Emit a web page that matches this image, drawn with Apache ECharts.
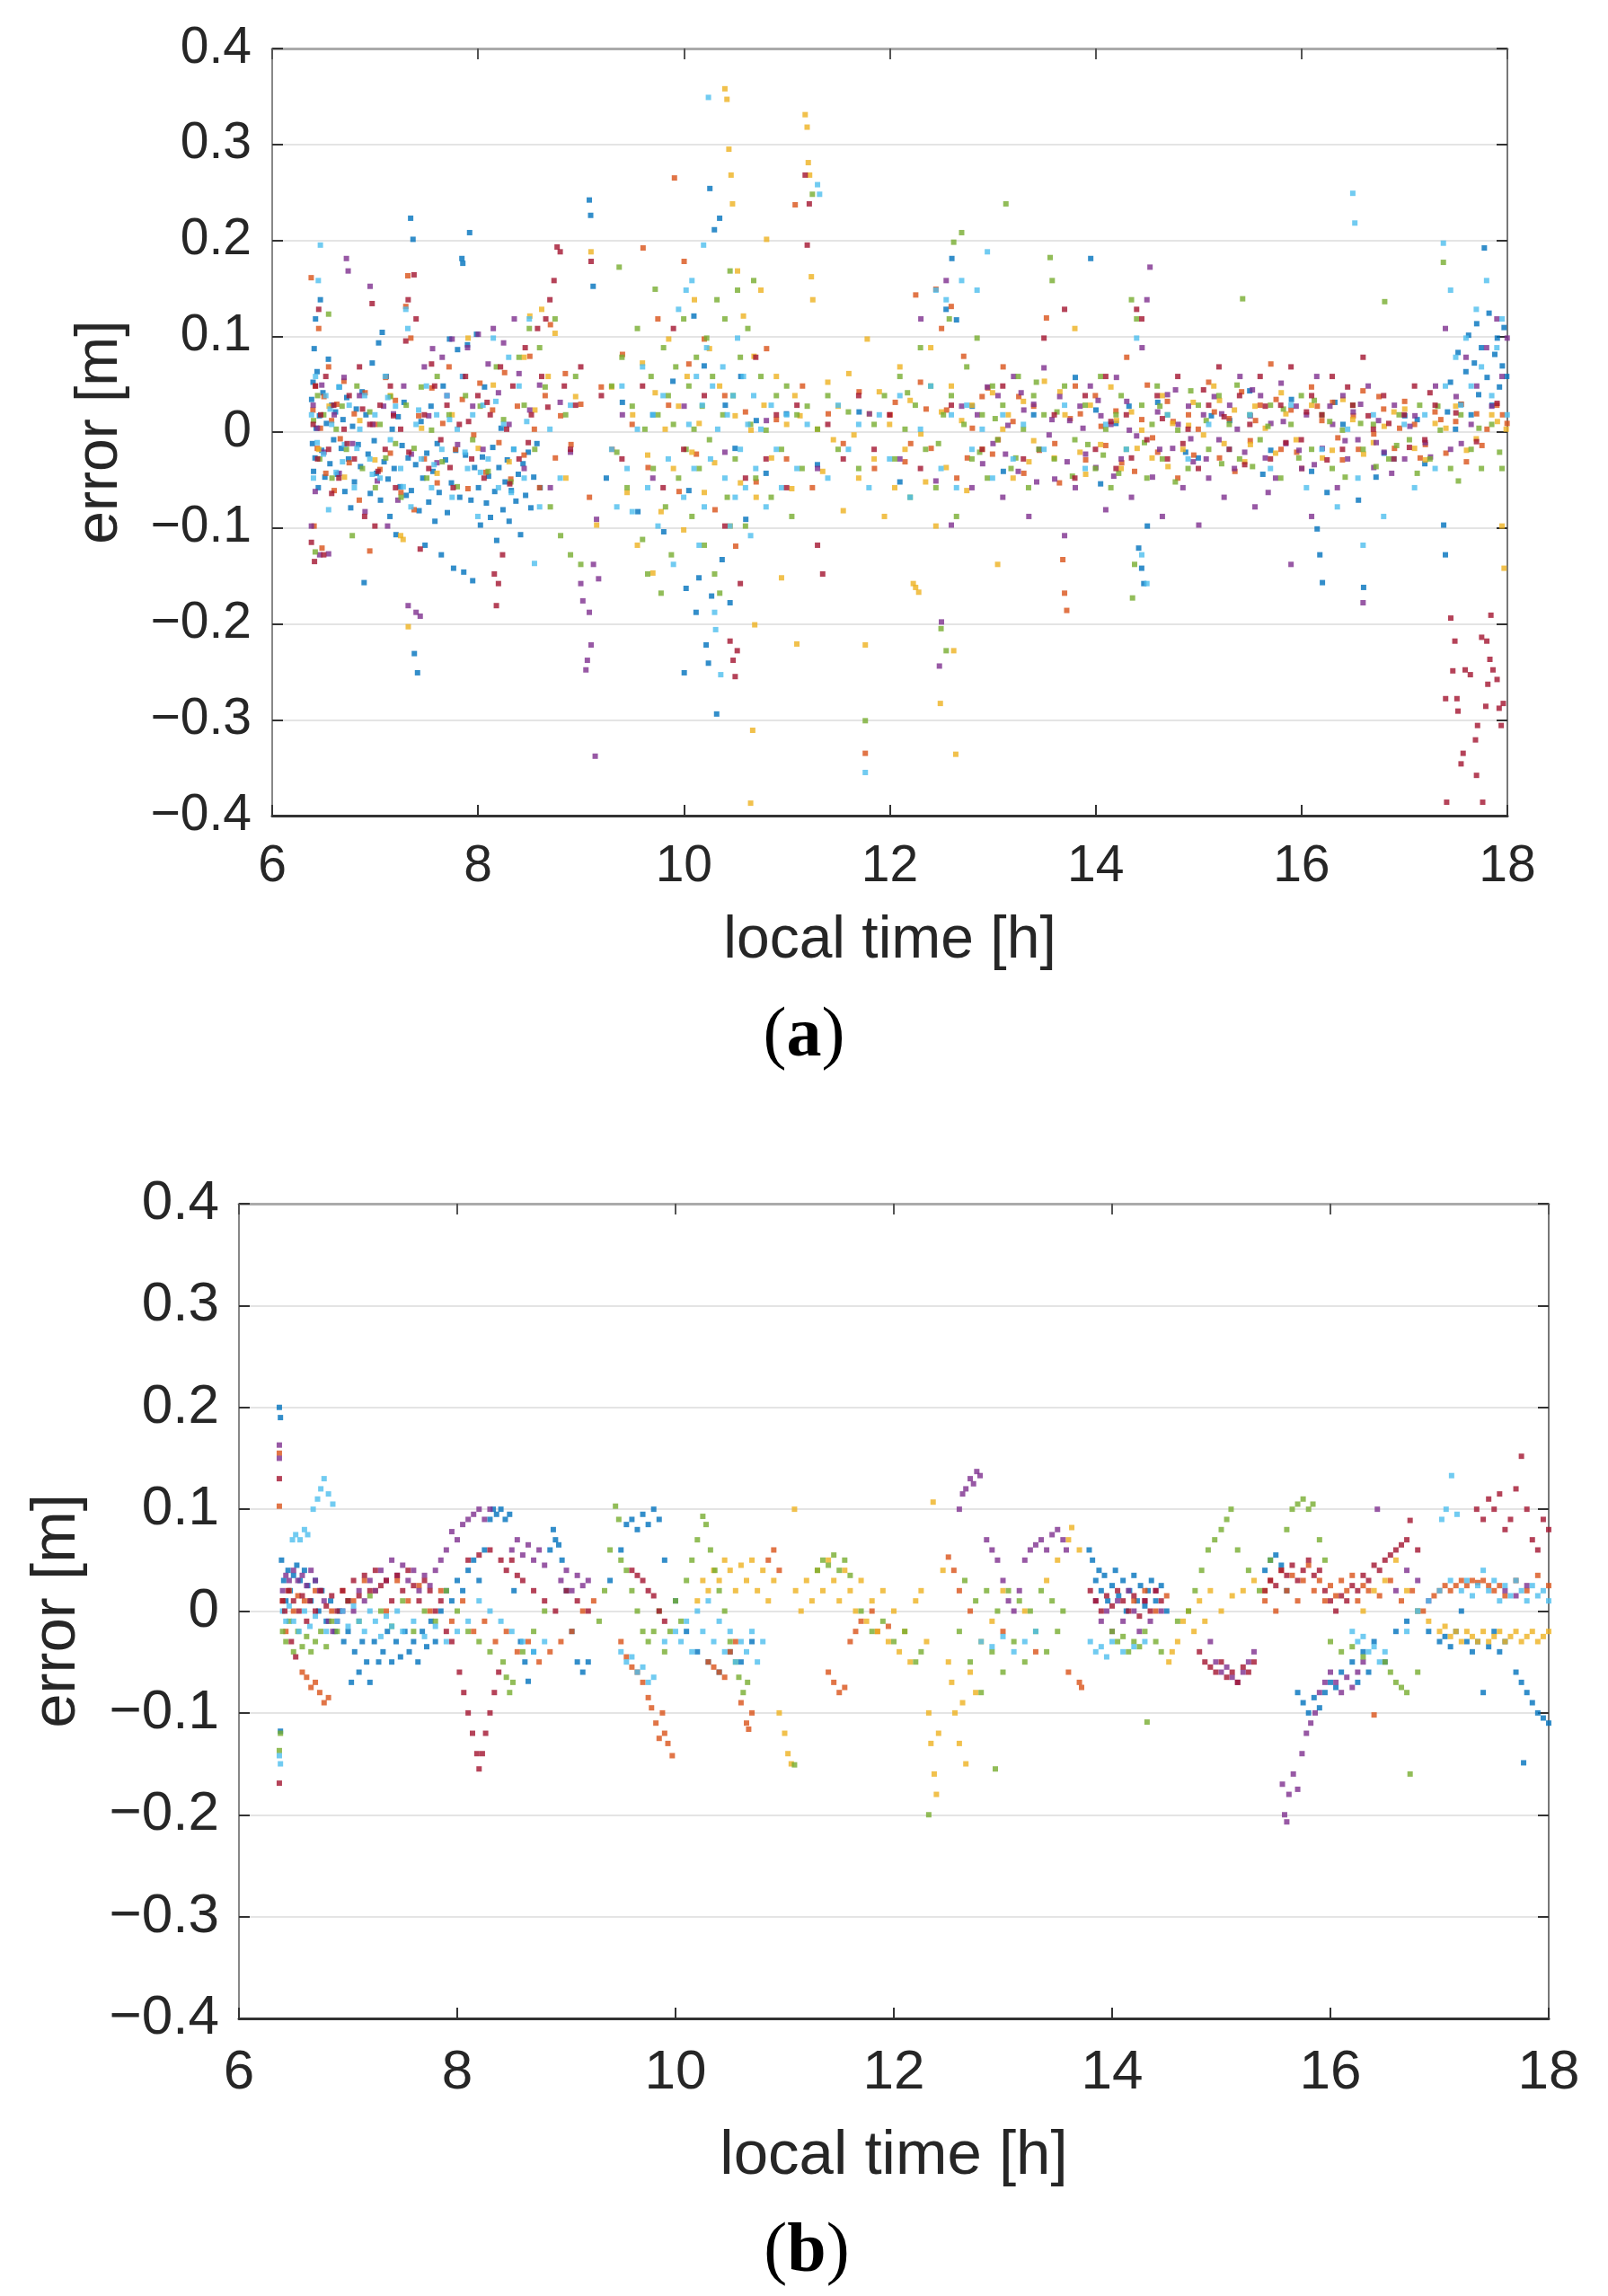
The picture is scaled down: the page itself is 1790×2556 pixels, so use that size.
<!DOCTYPE html>
<html style="height: 100%">
<head>
    <meta charset="UTF-8">
    <title>error vs local time</title>
    <script src="https://cdn.jsdelivr.net/npm/echarts@6/dist/echarts.min.js"></script>
</head>
<body style="height: 100%; margin: 0; background: #fff">
    <div id="main" style="width: 1790px; height: 2556px"></div>
    <script type="text/javascript">
        // matlab default colour order
        const colors = ['#0072BD', '#D95319', '#EDB120', '#7E2F8E', '#77AC30', '#4DBEEE', '#A2142F'];
        const xRange = [6, 18];
        const yRange = [-0.4, 0.4];

        // ---- panel (a) : [local time h, error m] ----
        const aBlue = [[6.383,0.034],[6.391,-0.012],[6.397,0.052],[6.402,-0.041],[6.408,0.087],[6.416,-0.027],[6.421,0.118],[6.427,0.004],[6.436,0.063],[6.448,-0.058],[6.459,0.017],[6.468,0.138],[6.481,-0.019],[6.493,0.041],[6.512,-0.047],[6.527,0.009],[6.546,0.076],[6.561,-0.033],[6.578,0.028],[6.597,-0.008],
            [6.615,0.021],[6.633,-0.044],[6.652,0.047],[6.671,-0.017],[6.688,0.013],[6.706,-0.062],[6.724,0.036],[6.741,-0.028],[6.763,-0.079],[6.781,0.006],[6.799,-0.052],[6.817,0.024],[6.836,-0.013],[6.858,-0.036],[6.874,0.042],[6.893,-0.157],[6.911,0.018],[6.932,-0.023],[6.953,-0.064],[6.972,0.072],[6.991,-0.009],[7.013,-0.043],[7.034,0.093],[7.052,-0.071],[7.069,0.104],[7.087,-0.031],[7.108,0.058],[7.126,-0.049],[7.144,-0.088],[7.166,0.003],[7.185,-0.038],[7.203,-0.107],[7.224,0.016],[7.243,-0.057],[7.262,-0.014],[7.281,0.031],[7.302,-0.066],[7.321,-0.027],[7.345,0.223],[7.352,-0.061],[7.368,0.201],[7.381,-0.231],[7.394,-0.034],[7.412,-0.251],[7.427,-0.082],[7.446,0.011],[7.463,-0.048],[7.485,-0.118],[7.502,-0.022],[7.521,-0.073],[7.543,0.027],[7.562,-0.041],[7.581,-0.093],[7.603,-0.012],[7.622,-0.063],[7.643,-0.128],[7.661,0.048],[7.684,-0.029],[7.702,-0.084],[7.723,0.097],[7.741,-0.053],[7.762,-0.142],[7.783,-0.019],[7.801,0.086],[7.822,-0.068],[7.843,0.181],[7.852,0.176],[7.861,-0.146],[7.878,-0.024],[7.897,0.091],[7.918,0.208],[7.931,-0.071],[7.948,-0.155],[7.966,-0.037],[7.985,0.102],[8.004,-0.058],[8.023,-0.097],[8.042,-0.026],[8.063,0.047],[8.081,-0.074],[8.102,-0.046],[8.121,-0.089],[8.143,-0.016],[8.162,-0.062],[8.181,-0.113],[8.203,-0.037],[8.224,0.004],[8.242,-0.081],[8.263,-0.052],[8.284,-0.029],[8.302,-0.093],[8.323,-0.061],[8.346,-0.018],[8.368,-0.072],[8.391,-0.044],[8.413,-0.107],[8.437,-0.033],[8.462,-0.066],[8.488,-0.021],[8.513,-0.079],[8.541,-0.047],[8.572,-0.012],[8.603,-0.058],
            [9.081,0.242],[9.094,0.226],[9.118,0.152],[9.246,-0.048],[9.402,0.031],[9.553,-0.083],[9.698,0.018],[9.804,-0.104],[9.893,0.053],[10.003,-0.251],[10.021,-0.163],[10.048,-0.061],[10.097,0.121],[10.118,-0.188],[10.146,-0.152],[10.197,0.069],[10.216,-0.222],[10.238,-0.241],[10.252,0.254],[10.269,-0.171],[10.296,0.211],[10.318,-0.294],[10.347,0.223],[10.371,-0.133],[10.402,0.028],[10.448,-0.178],[10.497,-0.017],[10.553,0.058],[10.601,-0.091],[10.703,0.012],[10.798,-0.043],[10.996,0.019],
            [11.297,-0.034],[11.702,0.021],[12.098,-0.052],[12.547,0.128],[12.603,0.181],[12.648,0.117],[12.801,0.027],[13.103,-0.041],[13.398,0.018],[13.802,0.057],[13.952,0.181],[14.003,0.023],[14.048,-0.054],[14.197,0.009],[14.324,0.027],[14.418,-0.121],[14.447,-0.142],[14.468,-0.158],[14.502,-0.098],[14.603,0.031],[14.874,-0.021],[14.997,-0.027],[15.124,0.017],[15.302,0.012],[15.497,0.043],[15.624,-0.044],[15.701,-0.019],[15.902,0.034],[16.098,-0.041],[16.152,-0.101],[16.178,-0.128],[16.203,-0.157],[16.248,-0.063],[16.324,0.031],[16.403,0.008],[16.553,-0.071],[16.603,-0.162],[16.724,-0.047],[16.802,-0.022],[17.003,0.017],[17.124,0.013],[17.198,-0.033],[17.381,-0.097],[17.398,-0.128],
            [17.418,0.021],[17.447,0.052],[17.496,0.003],[17.521,0.083],[17.548,0.029],[17.597,0.063],[17.623,0.101],[17.648,0.018],[17.679,0.072],[17.702,0.113],[17.721,0.039],[17.748,0.088],[17.776,0.192],[17.803,0.057],[17.822,0.124],[17.851,0.028],[17.878,0.081],[17.902,0.098],[17.923,0.047],[17.951,0.069],[17.968,0.109],[17.994,0.058]];

        const aOrange = [[6.379,0.161],[6.396,0.023],[6.407,-0.098],[6.419,0.048],[6.438,-0.017],[6.452,0.108],[6.469,0.004],[6.484,-0.121],[6.503,0.037],[6.521,-0.043],[6.548,0.068],[6.577,0.012],[6.602,-0.061],[6.628,0.029],[6.661,-0.007],[6.697,0.053],[6.748,-0.032],[6.797,0.019],[6.846,-0.071],[6.903,0.041],[6.948,-0.124],[6.998,0.008],[7.047,-0.039],[7.102,0.057],[7.148,-0.022],[7.197,0.033],[7.251,-0.063],[7.298,0.131],[7.318,0.163],[7.347,0.098],[7.379,-0.081],[7.423,0.017],[7.478,-0.028],[7.551,0.046],[7.603,-0.053],[7.657,0.009],[7.718,0.068],[7.781,-0.018],[7.847,0.034],[7.902,-0.059],[7.958,-0.003],[8.018,0.051],[8.077,-0.042],[8.141,0.023],[8.203,-0.011],[8.258,0.062],[8.318,-0.049],[8.382,0.027],[8.447,-0.024],[8.503,0.079],[8.547,0.003],[8.598,-0.058],[8.652,0.038],[8.703,0.112],[8.751,-0.027],[8.802,0.017],[8.848,0.061],[8.903,-0.013],[8.998,0.029],[9.082,-0.068],
            [9.197,0.047],[9.302,-0.018],[9.403,0.081],[9.497,0.008],[9.603,0.192],[9.652,-0.037],[9.747,0.118],[9.851,0.028],[9.908,0.265],[9.953,-0.062],[10.002,0.178],[10.048,0.071],[10.121,-0.023],[10.198,0.097],[10.302,-0.081],[10.397,0.038],[10.503,-0.119],[10.598,0.021],[10.702,-0.052],[10.803,0.087],[10.898,0.013],[10.997,-0.028],[11.081,0.237],[11.152,0.048],[11.248,-0.058],[11.402,0.019],[11.548,-0.012],[11.702,0.042],[11.762,-0.335],[11.851,-0.038],
            [12.003,0.018],[12.053,0.031],[12.148,-0.031],[12.203,-0.012],[12.252,0.143],[12.298,0.052],[12.353,0.024],[12.402,-0.017],[12.448,0.149],[12.503,0.108],[12.552,0.023],[12.597,0.131],[12.651,-0.048],[12.718,0.079],[12.753,-0.027],[12.802,0.004],[12.897,0.037],[12.953,0.046],[12.998,-0.023],[13.053,-0.008],[13.101,0.068],[13.197,0.011],[13.253,0.037],[13.302,-0.043],[13.398,0.027],[13.453,-0.019],[13.522,0.119],[13.603,-0.012],[13.648,-0.053],[13.681,-0.133],[13.698,-0.168],[13.719,-0.186],[13.753,0.014],[13.802,0.048],[13.851,0.019],[13.903,-0.029],[13.997,0.038],[14.053,0.006],[14.098,-0.014],[14.197,0.022],[14.253,-0.032],[14.302,0.078],[14.378,-0.041],[14.448,0.013],[14.502,0.049],[14.553,-0.006],[14.603,-0.021],[14.697,0.032],[14.753,0.011],[14.798,-0.048],[14.902,0.018],[14.953,-0.024],[14.997,0.003],[15.098,0.052],[15.153,0.021],[15.203,-0.027],[15.297,0.014],[15.353,-0.041],[15.418,0.042],[15.502,-0.009],[15.553,0.012],[15.598,0.028],[15.702,0.071],[15.753,0.034],[15.801,-0.018],[15.898,0.023],[15.953,-0.021],[16.003,-0.038],[16.097,0.047],[16.153,0.027],[16.198,0.012],[16.302,0.031],[16.353,-0.006],[16.398,-0.029],[16.503,0.017],[16.553,-0.018],[16.597,0.043],[16.702,-0.002],[16.753,0.037],[16.798,0.024],[16.903,-0.017],[16.953,0.004],[17.002,0.032],[17.098,0.008],[17.153,-0.027],[17.203,-0.013],[17.297,0.021],[17.353,0.013],[17.403,-0.022],[17.498,0.011],[17.553,0.029],[17.602,-0.031],[17.701,0.019],[17.753,-0.014],[17.802,0.003],[17.898,0.028],[17.953,0.018],[17.997,0.009]];

        const aYellow = [[6.452,-0.018],[6.553,0.027],[6.702,-0.047],[6.851,0.012],[6.998,-0.029],[7.148,0.038],[7.248,-0.108],[7.272,-0.112],[7.322,-0.203],[7.451,0.004],[7.602,-0.043],[7.748,0.018],[7.903,0.098],[8.002,-0.017],[8.148,0.049],[8.302,-0.031],[8.447,0.078],[8.503,0.121],[8.552,0.023],[8.618,0.128],[8.681,0.058],[8.748,0.103],[8.853,-0.048],[8.948,0.037],[9.097,0.188],[9.152,-0.097],[9.298,0.047],
            [9.448,-0.063],[9.502,0.018],[9.548,-0.118],[9.597,0.072],[9.648,-0.024],[9.698,-0.147],[9.721,0.041],[9.778,-0.083],[9.818,0.003],[9.852,0.097],[9.898,-0.038],[9.948,0.027],[9.998,-0.102],[10.031,0.058],[10.078,-0.021],[10.102,0.138],[10.148,0.009],[10.198,-0.063],[10.248,0.087],[10.298,-0.032],[10.347,0.048],[10.398,0.358],[10.418,0.347],[10.437,0.295],[10.458,0.268],[10.472,0.238],[10.451,-0.098],[10.498,0.017],[10.521,0.168],[10.549,-0.053],[10.578,0.121],[10.648,-0.387],[10.668,-0.311],[10.688,-0.201],[10.652,0.002],[10.681,0.079],[10.702,-0.068],[10.748,0.148],[10.778,0.028],[10.803,0.201],[10.851,-0.027],[10.898,0.058],[10.948,-0.152],[10.998,0.008],[11.048,-0.059],[11.078,0.038],[11.097,-0.221],[11.128,0.017],[11.178,0.331],[11.197,0.318],[11.208,0.281],[11.221,0.268],[11.238,0.162],[11.252,0.138],[11.297,0.003],[11.348,-0.041],[11.398,0.052],[11.452,-0.008],[11.498,0.027],[11.548,-0.082],[11.602,0.061],[11.652,-0.003],[11.698,-0.048],[11.762,-0.222],[11.781,0.097],[11.802,0.019],[11.848,-0.028],[11.898,0.042],[11.948,-0.088],[11.998,0.008],[12.048,-0.058],[12.098,0.068],[12.148,-0.018],[12.198,0.033],[12.228,-0.158],[12.251,-0.162],[12.281,-0.167],[12.302,-0.002],[12.348,-0.052],[12.398,0.088],[12.448,-0.098],[12.491,-0.283],[12.502,0.021],[12.548,-0.037],[12.598,0.048],[12.621,-0.228],[12.641,-0.336],[12.698,0.012],[12.748,-0.061],[12.798,0.028],
            [12.898,-0.018],[12.998,0.041],[13.048,-0.138],[13.098,0.003],[13.151,0.018],[13.198,-0.048],[13.298,0.032],[13.352,-0.031],[13.398,-0.009],[13.502,0.053],[13.598,-0.027],[13.653,0.042],[13.702,0.018],[13.798,0.108],[13.848,-0.021],[13.903,-0.044],[13.948,0.028],[14.048,-0.013],[14.148,0.047],[14.203,0.012],[14.248,-0.038],[14.348,0.021],[14.403,-0.017],[14.448,0.002],[14.548,-0.027],[14.648,0.038],[14.703,-0.036],[14.748,0.009],[14.848,-0.018],[14.903,0.007],[14.948,0.031],[15.048,-0.003],[15.148,0.048],[15.203,0.033],[15.248,-0.012],[15.348,0.023],[15.448,-0.031],[15.503,-0.013],[15.548,0.027],[15.648,0.004],[15.748,-0.022],[15.803,0.041],[15.848,0.019],[15.948,-0.008],[16.098,0.028],[16.203,-0.027],[16.298,-0.019],[16.403,0.034],[16.498,0.013],[16.603,-0.023],[16.698,-0.011],[16.803,0.006],[16.898,0.021],[17.003,0.024],[17.098,-0.017],[17.203,-0.029],[17.298,0.009],[17.403,0.004],[17.498,0.027],[17.603,-0.019],[17.698,-0.007],[17.848,0.018],[17.903,0.011],[17.948,-0.098],[17.968,-0.142],[17.988,0.003]];

        const aPurple = [[6.381,-0.098],[6.398,0.028],[6.418,-0.062],[6.439,0.004],[6.461,-0.128],[6.482,0.049],[6.503,-0.021],[6.548,-0.127],[6.602,0.018],[6.651,-0.043],[6.698,0.057],[6.721,0.181],[6.738,0.168],[6.781,-0.012],[6.848,0.038],[6.902,-0.083],[6.951,0.152],[6.978,0.008],[7.021,-0.051],[7.083,0.027],[7.121,-0.098],[7.178,0.019],[7.221,-0.071],[7.278,0.048],[7.321,-0.181],[7.352,-0.023],[7.398,-0.188],[7.438,-0.192],[7.478,0.068],[7.521,0.017],[7.558,0.087],[7.601,-0.032],[7.652,0.078],[7.698,0.038],[7.748,0.097],[7.801,-0.013],[7.852,0.058],[7.898,0.088],[7.948,0.027],[8.002,0.102],[8.048,-0.018],[8.098,0.071],[8.148,0.108],[8.198,0.041],[8.248,0.093],[8.301,0.008],[8.352,0.118],[8.398,0.061],[8.448,-0.038],[8.502,0.023],[8.598,0.049],[8.702,-0.058],[8.798,0.031],[8.898,-0.021],
            [8.998,-0.158],[9.018,-0.176],[9.048,-0.248],[9.062,-0.238],[9.081,-0.188],[9.098,-0.222],[9.121,-0.138],[9.138,-0.338],[9.151,-0.091],[9.171,-0.153],
            [9.402,0.018],[9.698,-0.048],[10.002,0.027],[10.398,-0.021],[10.801,0.012],[11.298,-0.038],[11.802,0.019],[12.098,-0.028],[12.302,0.118],[12.448,-0.051],[12.482,-0.244],[12.502,-0.198],[12.548,0.158],[12.598,-0.097],[12.698,0.027],[12.798,-0.058],
            [12.851,0.018],[12.902,-0.033],[12.948,0.047],[13.003,-0.012],[13.051,0.038],[13.098,-0.068],[13.124,-0.023],[13.148,0.007],[13.203,0.058],[13.248,-0.041],[13.276,0.041],[13.302,0.023],[13.351,-0.088],[13.398,0.029],[13.427,-0.052],[13.452,-0.018],[13.498,0.067],[13.548,-0.003],[13.576,0.013],[13.602,-0.049],[13.651,0.037],[13.698,-0.108],[13.723,-0.031],[13.748,0.012],[13.802,-0.058],[13.848,0.027],[13.877,0.004],[13.902,-0.023],[13.948,0.048],[14.002,-0.037],[14.024,0.033],[14.051,0.017],[14.098,-0.081],[14.148,0.008],[14.176,-0.046],[14.202,0.057],[14.248,-0.028],[14.302,0.032],[14.327,0.002],[14.348,-0.068],[14.398,-0.004],[14.451,0.088],[14.498,0.138],[14.528,0.172],[14.552,-0.047],[14.602,0.021],[14.622,-0.018],[14.648,-0.088],[14.698,0.039],[14.748,-0.017],[14.776,0.044],[14.802,0.008],[14.848,-0.058],[14.902,0.027],[14.924,-0.007],[14.948,-0.031],[15.002,-0.097],[15.048,0.018],[15.074,-0.028],[15.098,-0.048],[15.152,0.037],[15.198,-0.008],[15.224,0.019],[15.248,-0.068],[15.302,0.028],[15.348,-0.038],[15.376,0.003],[15.402,0.058],[15.448,-0.021],[15.502,0.017],[15.523,0.044],[15.548,-0.078],[15.602,0.038],[15.648,-0.027],[15.676,-0.063],[15.702,0.009],[15.748,-0.048],[15.802,0.051],[15.823,0.011],[15.848,-0.012],[15.898,-0.138],[15.948,0.027],[15.976,-0.019],[16.002,-0.038],[16.048,0.018],[16.098,-0.088],[16.124,-0.034],[16.148,0.058],[16.202,-0.017],[16.276,0.027],[16.302,0.008],[16.348,-0.058],[16.402,0.038],[16.423,-0.009],[16.448,-0.028],[16.502,0.021],[16.548,-0.008],[16.574,0.029],[16.598,-0.178],[16.648,0.048],[16.702,-0.037],[16.726,-0.011],[16.748,0.012],[16.802,-0.021],[16.876,-0.043],[16.902,0.028],[17.002,-0.028],[17.053,0.006],[17.102,0.017],[17.202,-0.011],[17.253,-0.026],[17.302,0.048],[17.398,0.108],[17.448,-0.018],[17.502,0.037],[17.552,-0.012],[17.598,0.078],[17.648,0.008],[17.702,0.048],[17.798,0.088],[17.848,0.027],[17.898,0.118],[17.948,0.058],[17.998,0.098]];

        const aGreen = [[6.402,0.012],[6.418,-0.125],[6.441,0.038],[6.462,-0.028],[6.501,0.018],[6.548,0.123],[6.581,-0.048],[6.622,0.003],[6.679,0.027],[6.721,-0.018],[6.778,-0.108],[6.823,0.048],[6.877,-0.038],[6.948,0.021],[7.002,-0.058],[7.048,0.008],[7.103,-0.027],[7.148,0.037],[7.198,-0.012],[7.252,-0.068],[7.302,0.028],[7.378,-0.017],[7.448,0.047],[7.502,-0.048],[7.548,0.002],[7.603,0.058],[7.652,-0.031],[7.718,0.018],[7.798,-0.057],[7.878,0.038],[7.948,-0.008],[8.021,0.027],[8.098,-0.041],[8.178,0.068],[8.248,0.013],[8.318,-0.052],[8.398,0.078],[8.448,0.028],[8.498,0.108],[8.551,-0.018],[8.598,0.088],[8.652,0.047],[8.702,-0.078],[8.748,0.118],[8.802,-0.108],[8.851,0.018],[8.898,-0.128],[8.948,0.058],[8.998,-0.138],
            [9.298,0.048],[9.348,-0.021],[9.371,0.172],[9.398,0.078],[9.448,-0.058],[9.498,0.027],[9.548,0.108],[9.598,-0.112],[9.621,0.003],[9.648,-0.148],[9.681,0.058],[9.702,-0.038],[9.721,0.149],[9.748,0.018],[9.778,-0.168],[9.802,0.088],[9.821,-0.078],[9.848,0.038],[9.878,-0.128],[9.898,0.008],[9.921,0.068],[9.948,-0.048],[9.998,0.118],[10.021,-0.018],[10.048,0.048],[10.078,-0.088],[10.098,0.003],[10.121,0.078],[10.148,-0.038],[10.178,0.027],[10.198,-0.118],[10.221,0.098],[10.248,-0.008],[10.278,0.058],[10.298,-0.148],[10.321,0.138],[10.348,-0.168],[10.378,0.018],[10.398,0.118],[10.421,-0.068],[10.448,0.168],[10.478,0.038],[10.498,-0.028],[10.521,0.148],[10.548,0.078],[10.598,-0.098],[10.621,0.108],[10.648,0.008],[10.678,0.158],[10.698,-0.048],[10.748,0.058],[10.798,0.002],[10.848,-0.068],[10.898,0.038],[10.948,-0.018],[10.998,0.048],[11.048,-0.088],[11.098,0.018],[11.148,-0.038],[11.198,0.027],[11.248,0.248],[11.298,0.003],[11.398,0.038],[11.498,-0.018],[11.598,0.021],[11.698,-0.038],[11.762,-0.301],[11.848,0.008],[11.948,0.038],
            [12.048,-0.028],[12.098,0.058],[12.148,0.003],[12.172,0.041],[12.198,-0.068],[12.248,0.028],[12.298,0.088],[12.348,-0.018],[12.398,0.048],[12.448,-0.058],[12.473,-0.012],[12.498,-0.205],[12.521,0.018],[12.548,-0.228],[12.578,0.118],[12.598,0.038],[12.621,0.198],[12.648,-0.088],[12.698,0.208],[12.721,0.008],[12.748,0.068],[12.798,-0.028],[12.848,0.098],[12.873,-0.021],[12.898,0.018],[12.948,-0.048],[12.998,0.048],[13.024,0.014],[13.048,-0.008],[13.098,0.028],[13.128,0.238],[13.178,-0.038],[13.224,-0.027],[13.248,0.058],[13.298,0.003],[13.348,-0.058],[13.398,0.038],[13.424,0.052],[13.448,-0.018],[13.498,0.018],[13.558,0.182],[13.578,0.158],[13.598,-0.028],[13.624,0.021],[13.698,0.048],[13.774,-0.046],[13.798,-0.008],[13.898,0.028],[13.924,-0.013],[13.998,-0.038],[14.048,0.058],[14.074,-0.024],[14.098,0.003],[14.148,-0.058],[14.198,0.018],[14.224,-0.043],[14.248,0.038],[14.298,-0.018],[14.348,0.138],[14.358,-0.173],[14.378,-0.138],[14.398,0.118],[14.448,0.028],[14.474,-0.011],[14.498,-0.048],[14.548,0.008],[14.598,0.048],[14.624,0.027],[14.648,-0.028],[14.698,0.018],[14.774,-0.052],[14.798,0.002],[14.898,-0.038],[14.924,0.043],[14.998,0.028],[15.074,0.012],[15.098,-0.018],[15.198,0.038],[15.224,-0.033],[15.298,0.008],[15.374,0.049],[15.398,-0.028],[15.428,0.139],[15.498,0.018],[15.524,-0.036],[15.598,-0.008],[15.674,0.006],[15.698,0.028],[15.798,-0.048],[15.824,0.024],[15.898,0.008],[15.974,-0.027],[15.998,0.038],[16.098,-0.018],[16.124,0.033],[16.198,0.018],[16.274,0.011],[16.298,-0.038],[16.398,0.002],[16.424,-0.047],[16.498,0.028],[16.574,0.009],[16.598,-0.018],[16.698,0.008],[16.724,-0.036],[16.808,0.136],[16.848,-0.028],[16.924,-0.014],[16.948,0.018],[17.048,-0.008],[17.124,-0.043],[17.148,0.028],[17.248,-0.028],[17.324,0.027],[17.348,0.002],[17.378,0.177],[17.448,-0.038],[17.524,-0.051],[17.548,0.018],[17.648,-0.018],[17.724,0.004],[17.748,-0.038],[17.848,0.008],[17.924,-0.021],[17.948,-0.038]];

        const aCyan = [[6.382,0.018],[6.401,-0.048],[6.421,0.058],[6.437,-0.011],[6.448,0.158],[6.468,0.195],[6.498,-0.023],[6.521,0.038],[6.548,-0.081],[6.563,0.024],[6.578,0.008],[6.621,-0.042],[6.648,0.047],[6.683,-0.031],[6.702,-0.013],[6.748,0.028],[6.798,-0.058],[6.823,-0.017],[6.851,0.003],[6.898,0.038],[6.948,-0.028],[6.973,-0.044],[6.998,0.018],[7.048,-0.048],[7.098,0.058],[7.123,0.036],[7.148,-0.008],[7.198,0.027],[7.248,-0.038],[7.273,-0.057],[7.298,0.128],[7.318,0.108],[7.348,-0.078],[7.398,0.008],[7.423,0.023],[7.448,-0.028],[7.498,0.048],[7.548,-0.058],[7.573,-0.034],[7.598,0.018],[7.648,-0.018],[7.698,0.038],[7.723,0.013],[7.748,-0.068],[7.798,0.003],[7.848,0.058],[7.873,-0.021],[7.898,-0.038],[7.948,0.018],[7.998,-0.088],[8.023,-0.042],[8.048,0.028],[8.098,-0.028],[8.148,0.098],[8.173,0.032],[8.198,-0.058],[8.248,0.008],[8.298,0.078],[8.323,-0.063],[8.348,-0.018],[8.398,0.048],[8.448,-0.048],[8.473,0.011],[8.498,0.118],[8.548,-0.137],[8.598,-0.078],[8.698,0.003],[8.798,-0.048],[8.898,0.028],
            [9.298,-0.018],[9.348,-0.078],[9.398,0.048],[9.448,-0.038],[9.498,-0.083],[9.548,0.003],[9.598,0.068],[9.648,-0.058],[9.698,0.018],[9.748,-0.098],[9.798,0.038],[9.848,-0.028],[9.898,-0.138],[9.948,0.128],[9.998,-0.068],[10.021,0.148],[10.048,0.008],[10.078,0.158],[10.098,-0.038],[10.121,0.058],[10.148,-0.118],[10.178,0.028],[10.191,0.195],[10.198,-0.078],[10.221,0.088],[10.238,0.349],[10.258,-0.028],[10.278,0.048],[10.298,-0.188],[10.308,-0.206],[10.328,0.003],[10.358,-0.253],[10.378,0.068],[10.398,-0.048],[10.421,0.018],[10.448,-0.098],[10.478,0.038],[10.498,-0.068],[10.521,0.098],[10.548,-0.018],[10.578,0.058],[10.598,-0.058],[10.621,0.008],[10.648,-0.108],[10.678,0.038],[10.698,-0.038],[10.748,0.003],[10.798,-0.078],[10.848,0.028],[10.898,-0.018],[10.948,-0.058],[10.998,0.018],[11.098,-0.038],[11.198,0.008],[11.298,0.258],[11.318,0.248],
            [11.398,-0.048],[11.498,0.028],[11.598,-0.018],[11.698,0.008],[11.762,-0.355],[11.798,-0.058],[11.898,0.018],[11.998,-0.028],[12.098,0.038],[12.198,-0.068],[12.298,0.003],[12.398,0.048],[12.448,0.148],[12.498,-0.038],[12.548,0.138],[12.598,0.018],[12.648,-0.058],[12.698,0.158],[12.748,0.028],[12.798,-0.018],[12.848,0.148],[12.898,0.003],[12.948,0.188],[12.998,-0.048],[13.098,0.018],[13.198,-0.028],[13.298,0.008],[13.498,-0.018],[13.698,0.028],[13.898,-0.038],[14.098,0.008],[14.298,-0.018],[14.398,0.098],[14.448,-0.128],[14.498,-0.158],[14.698,0.018],[14.898,-0.028],[15.098,0.008],[15.298,-0.018],[15.498,0.018],[15.698,-0.038],[15.898,0.028],[16.048,-0.058],[16.198,-0.018],[16.348,-0.078],[16.448,0.003],[16.498,0.249],[16.518,0.218],[16.548,-0.048],[16.598,-0.118],[16.698,0.018],[16.798,-0.088],[16.898,-0.028],[16.998,0.008],[17.098,-0.058],[17.198,0.018],[17.298,-0.038],[17.378,0.197],[17.398,0.048],[17.448,0.148],[17.498,0.078],[17.548,0.028],[17.598,0.098],[17.648,0.048],[17.698,0.128],[17.748,0.068],[17.798,0.158],[17.848,0.038],[17.898,0.088],[17.948,0.118],[17.998,0.018]];

        const aRed = [[6.381,-0.115],[6.398,0.008],[6.411,-0.135],[6.421,0.048],[6.441,-0.028],[6.452,0.128],[6.471,0.018],[6.501,-0.128],[6.521,0.058],[6.548,-0.018],[6.578,-0.064],[6.598,0.028],[6.648,-0.048],[6.698,0.003],[6.728,-0.012],[6.748,0.038],[6.798,-0.028],[6.848,0.068],[6.878,0.024],[6.898,-0.088],[6.948,0.008],[6.971,0.134],[6.998,-0.098],[7.028,-0.041],[7.048,0.028],[7.098,-0.018],[7.148,0.048],[7.178,0.017],[7.198,-0.058],[7.248,0.003],[7.298,0.095],[7.321,0.138],[7.328,-0.021],[7.378,0.164],[7.398,0.118],[7.438,-0.122],[7.478,0.018],[7.521,-0.038],[7.548,0.071],[7.578,0.048],[7.638,-0.008],[7.698,0.028],[7.728,-0.037],[7.758,-0.058],[7.818,0.008],[7.878,0.058],[7.908,0.011],[7.938,-0.028],[7.998,0.038],[8.058,-0.048],[8.088,0.031],[8.118,0.018],[8.158,-0.148],[8.178,-0.181],[8.198,-0.158],[8.218,0.068],[8.238,-0.128],[8.278,0.003],[8.308,-0.054],[8.338,0.048],[8.398,-0.028],[8.458,0.088],[8.488,-0.011],[8.518,0.018],[8.578,0.108],[8.618,0.058],[8.658,0.118],[8.678,0.026],[8.698,0.138],[8.738,0.158],[8.768,0.193],[8.798,0.188],[8.838,0.048],[8.898,-0.018],[8.948,0.028],[8.998,0.068],
            [9.098,0.178],[9.198,0.038],[9.398,-0.028],[9.598,0.048],[9.798,-0.058],[9.898,0.108],[9.998,-0.018],[10.198,0.038],[10.398,-0.098],[10.448,-0.218],[10.478,-0.238],[10.498,-0.255],[10.518,-0.228],[10.548,-0.158],[10.598,-0.048],[10.698,0.078],[10.798,-0.028],[10.898,0.018],[10.998,-0.058],[11.098,0.028],[11.178,0.268],[11.198,0.195],[11.218,0.238],[11.298,-0.118],[11.348,-0.148],[11.398,0.008],[11.548,-0.028],[11.698,0.038],[11.848,-0.018],
            [11.998,0.018],[12.298,-0.038],[12.598,0.028],[12.898,-0.018],[13.098,0.048],[13.298,-0.028],[13.498,0.098],[13.598,0.018],[13.698,0.128],[13.798,-0.048],[13.898,0.038],[13.998,-0.018],[14.098,0.058],[14.148,0.011],[14.198,-0.038],[14.298,0.018],[14.348,-0.027],[14.398,0.128],[14.448,0.118],[14.498,-0.008],[14.598,0.038],[14.648,0.014],[14.698,-0.028],[14.798,0.058],[14.848,-0.012],[14.898,0.003],[14.998,-0.038],[15.048,0.044],[15.098,0.028],[15.198,0.068],[15.248,0.016],[15.298,-0.018],[15.398,0.038],[15.448,-0.034],[15.498,0.008],[15.598,0.058],[15.648,0.027],[15.698,-0.028],[15.798,0.028],[15.848,-0.011],[15.898,0.068],[15.998,-0.008],[16.048,0.021],[16.098,0.038],[16.198,0.018],[16.248,-0.029],[16.298,0.058],[16.398,-0.018],[16.448,0.047],[16.498,0.028],[16.598,0.078],[16.648,0.017],[16.698,0.003],[16.798,0.038],[16.848,0.009],[16.898,-0.028],[16.998,0.018],[17.048,-0.016],[17.098,0.048],[17.198,-0.008],[17.248,0.041],[17.298,0.028],
            [17.4,-0.278],[17.41,-0.386],[17.45,-0.194],[17.47,-0.249],[17.49,-0.218],[17.51,-0.278],[17.52,-0.291],[17.55,-0.346],[17.57,-0.335],[17.59,-0.248],[17.64,-0.253],[17.69,-0.321],[17.7,-0.358],[17.71,-0.306],[17.75,-0.214],[17.76,-0.386],[17.79,-0.286],[17.8,-0.218],[17.81,-0.263],[17.83,-0.237],[17.84,-0.191],[17.86,-0.248],[17.9,-0.258],[17.92,-0.288],[17.94,-0.306],[17.96,-0.283],[17.5,0.02],[17.7,-0.01],[17.9,0.03]];

        // ---- panel (b) ----
        const bBlue = [[6.37,0.2],[6.38,0.19],[6.38,-0.118],[6.39,0.05],[6.41,0.03],[6.43,0.01],[6.45,0.04],[6.47,0.02],[6.5,0.035],[6.53,0.045],[6.56,0.03],[6.6,0.04],[6.63,0.025],[6.66,0.01],[6.7,0.03],[6.73,0.0],[6.76,0.02],[6.8,-0.01],[6.84,0.01],[6.88,-0.02],[6.92,0.0],[6.96,-0.03],[7.0,-0.02],[7.03,-0.07],[7.06,-0.04],[7.1,-0.06],[7.13,-0.03],[7.17,-0.05],[7.2,-0.07],[7.24,-0.03],[7.28,-0.05],[7.32,-0.04],[7.36,-0.02],[7.4,-0.05],[7.44,-0.03],[7.48,-0.045],[7.52,-0.02],[7.56,-0.04],[7.6,-0.03],[7.64,-0.05],[7.68,-0.02],[7.72,-0.035],[7.76,-0.01],[7.8,-0.03],[7.85,0.0],[7.9,0.02],[7.95,0.01],[8.0,0.03],[8.05,0.02],[8.1,0.04],[8.15,0.05],[8.2,0.03],[8.25,0.06],[8.3,0.09],[8.33,0.1],[8.36,0.095],[8.4,0.1],[8.44,0.09],[8.48,0.095],[8.52,0.02],[8.58,-0.03],[8.62,-0.05],[8.65,-0.069],[8.7,-0.04],[8.85,0.06],[8.88,0.08],[8.9,0.07],[8.93,0.065],[8.96,0.05],[9.0,0.02],[9.05,-0.02],[9.1,-0.05],[9.15,-0.06],[9.2,-0.05],[9.4,0.03],[9.5,0.06],[9.55,0.085],[9.6,0.09],[9.65,0.08],[9.7,0.095],[9.75,0.085],[9.8,0.1],[9.85,0.09],[9.9,0.05],[10.0,0.01],[10.1,-0.02],[10.2,-0.04],[10.3,-0.05],[10.4,-0.06],[10.5,-0.04],[10.6,-0.05],[10.7,-0.03],
            [13.79,0.06],[13.82,0.05],[13.85,0.03],[13.88,0.04],[13.9,0.02],[13.93,0.035],[13.96,0.01],[14.0,0.025],[14.03,0.04],[14.06,0.015],[14.1,0.03],[14.13,0.0],[14.16,0.02],[14.2,0.035],[14.23,0.01],[14.26,0.025],[14.3,0.005],[14.33,0.02],[14.36,0.03],[14.4,0.01],[14.45,0.025],[14.5,0.0],
            [15.4,0.04],[15.45,0.05],[15.5,0.055],[15.55,0.045],[15.6,0.02],[15.7,-0.08],[15.75,-0.09],[15.8,-0.1],[15.85,-0.085],[15.9,-0.095],[15.95,-0.08],[16.0,-0.07],[16.05,-0.075],[16.1,-0.06],[16.2,-0.05],[16.25,-0.07],[16.3,-0.04],[16.35,-0.06],[16.4,-0.03],[16.5,-0.05],[16.6,-0.02],[16.7,-0.01],[16.8,0.0],[16.9,-0.02],[17.0,-0.03],[17.05,-0.025],[17.1,-0.035],[17.15,-0.02],[17.2,0.0],[17.25,-0.03],[17.3,-0.04],[17.35,-0.03],[17.4,-0.08],[17.45,-0.035],[17.5,-0.02],[17.55,-0.04],[17.6,-0.03],[17.7,-0.06],[17.75,-0.07],[17.77,-0.149],[17.8,-0.08],[17.85,-0.09],[17.9,-0.1],[17.95,-0.105],[18.0,-0.11]];

        const bOrange = [[6.37,0.155],[6.37,0.103],[6.4,0.01],[6.43,-0.02],[6.46,0.02],[6.5,0.0],[6.54,0.015],[6.58,-0.06],[6.62,-0.065],[6.66,-0.075],[6.7,-0.07],[6.74,-0.08],[6.78,-0.09],[6.82,-0.085],[6.6,0.01],[6.7,0.02],[6.85,0.0],[6.95,0.02],[7.05,0.01],[7.15,0.03],[7.25,0.02],[7.35,0.0],[7.45,0.03],[7.55,0.01],[7.65,0.025],[7.75,0.0],[7.85,0.02],[7.95,-0.01],[8.05,0.01],[8.15,-0.02],[8.25,-0.01],[8.35,-0.03],[8.45,-0.02],[8.55,-0.04],[8.65,-0.03],[8.75,-0.05],[8.85,-0.04],[8.95,-0.03],[9.05,-0.02],[9.15,0.0],[9.25,0.01],[9.5,-0.03],[9.55,-0.045],[9.6,-0.055],[9.65,-0.06],[9.7,-0.07],[9.75,-0.085],[9.78,-0.095],[9.82,-0.11],[9.85,-0.125],[9.88,-0.1],[9.9,-0.12],[9.93,-0.13],[9.97,-0.142],[10.3,-0.05],[10.35,-0.055],[10.4,-0.06],[10.45,-0.065],[10.5,-0.04],[10.55,-0.03],[10.6,-0.09],[10.65,-0.11],[10.67,-0.116],[10.7,-0.1],[10.85,0.05],[10.9,0.06],[10.95,0.04],[11.4,-0.06],[11.45,-0.07],[11.5,-0.08],[11.55,-0.075],[11.6,-0.03],[11.65,-0.02],[11.7,-0.01],[11.8,0.0],[11.85,-0.02],[11.95,-0.015],[12.5,0.053],[12.55,0.04],[12.6,0.02],[12.7,0.0],[13.0,-0.02],[13.3,-0.04],[13.6,-0.06],[13.7,-0.07],[13.72,-0.075],[14.2,0.01],[14.3,0.02],[14.4,0.0],[14.5,0.015],[15.4,0.01],[15.45,0.03],[15.5,0.0],[15.55,0.04],[15.6,0.02],[15.65,0.035],[15.7,0.01],[15.75,0.03],[15.8,0.045],[15.85,0.02],[15.9,0.03],[15.95,0.01],[16.0,0.025],[16.05,0.015],[16.1,0.03],[16.15,0.02],[16.2,0.035],[16.25,0.01],[16.3,0.025],[16.35,0.02],[16.4,-0.102],[16.45,0.015],[16.55,0.03],[16.65,0.01],[16.75,0.02],[16.85,0.0],[16.95,0.015],[17.0,0.02],[17.05,0.025],[17.1,0.02],[17.15,0.025],[17.2,0.03],[17.25,0.025],[17.3,0.03],[17.35,0.028],[17.4,0.03],[17.45,0.025],[17.5,0.02],[17.55,0.025],[17.6,0.015],[17.7,0.03],[17.8,0.02],[17.9,0.035],[18.0,0.025]];

        const bYellow = [[10.2,0.01],[10.25,0.03],[10.3,0.02],[10.35,0.04],[10.4,0.03],[10.45,0.05],[10.5,0.04],[10.55,0.02],[10.6,0.045],[10.65,0.03],[10.7,0.05],[10.75,0.02],[10.8,0.04],[10.85,0.01],[10.9,0.03],[10.95,-0.1],[11.0,-0.12],[11.03,-0.14],[11.06,-0.15],[11.09,0.1],[11.1,0.02],[11.15,0.0],[11.2,0.03],[11.25,0.01],[11.3,0.04],[11.35,0.02],[11.4,0.05],[11.45,0.03],[11.5,0.01],[11.55,0.04],[11.6,0.02],[11.65,0.0],[11.7,0.03],[11.75,-0.01],[11.8,0.01],[11.85,-0.02],[11.9,0.02],[11.95,-0.03],[12.0,0.0],[12.05,-0.04],[12.1,-0.02],[12.15,-0.05],[12.2,0.01],[12.25,0.02],[12.3,-0.03],[12.32,-0.1],[12.34,-0.13],[12.36,0.107],[12.37,-0.16],[12.39,-0.18],[12.41,-0.12],[12.45,0.04],[12.5,-0.05],[12.53,-0.07],[12.56,-0.1],[12.6,-0.13],[12.63,-0.09],[12.66,-0.15],[12.7,-0.06],[12.75,-0.08],[12.8,-0.03],[12.9,-0.01],[13.0,0.02],[13.2,0.0],[13.4,0.03],[13.5,0.05],[13.6,0.07],[13.63,0.082],[13.7,0.06],[14.52,-0.05],[14.55,-0.04],[14.6,-0.03],[14.65,-0.01],[14.7,0.0],[14.75,-0.02],[14.8,0.01],[14.85,-0.01],[14.9,0.02],[15.0,0.0],[15.1,0.015],[15.2,0.02],[15.3,0.03],[15.4,0.02],[16.3,0.0],[16.4,0.02],[16.5,0.03],[16.6,0.05],[16.7,0.02],[16.8,0.0],[16.9,-0.01],[17.0,-0.02],[17.05,-0.015],[17.1,-0.025],[17.15,-0.02],[17.2,-0.03],[17.25,-0.02],[17.3,-0.025],[17.35,-0.03],[17.4,-0.02],[17.45,-0.03],[17.5,-0.025],[17.55,-0.02],[17.6,-0.03],[17.65,-0.025],[17.7,-0.02],[17.75,-0.03],[17.8,-0.025],[17.85,-0.02],[17.9,-0.03],[17.95,-0.025],[18.0,-0.02]];

        const bPurple = [[6.37,0.163],[6.37,0.15],[6.4,0.02],[6.43,0.035],[6.46,0.03],[6.5,0.04],[6.54,0.03],[6.58,0.035],[6.62,0.025],[6.66,0.04],[6.7,0.03],[6.74,0.02],[6.78,0.01],[6.82,-0.01],[6.86,-0.02],[6.9,-0.01],[6.95,0.0],[7.0,0.01],[7.05,0.0],[7.1,0.02],[7.15,0.01],[7.2,0.03],[7.25,0.02],[7.3,0.04],[7.35,0.03],[7.4,0.05],[7.45,0.035],[7.5,0.045],[7.55,0.03],[7.6,0.04],[7.65,0.02],[7.7,0.035],[7.75,0.025],[7.8,0.04],[7.85,0.05],[7.9,0.06],[7.95,0.078],[8.0,0.07],[8.05,0.085],[8.1,0.09],[8.15,0.095],[8.2,0.1],[8.25,0.09],[8.3,0.1],[8.5,0.06],[8.55,0.07],[8.6,0.055],[8.65,0.065],[8.7,0.05],[8.75,0.06],[8.8,0.045],[8.95,0.03],[9.0,0.04],[9.05,0.02],[9.1,0.035],[9.15,0.025],[9.2,0.03],
            [12.6,0.1],[12.63,0.115],[12.66,0.12],[12.7,0.13],[12.73,0.125],[12.76,0.137],[12.79,0.133],[12.85,0.07],[12.9,0.06],[12.95,0.05],[13.0,0.03],[13.05,0.01],[13.1,0.0],[13.15,0.02],[13.2,0.05],[13.25,0.06],[13.3,0.065],[13.35,0.07],[13.4,0.06],[13.45,0.075],[13.5,0.08],[13.55,0.07],[13.58,0.06],[13.85,0.01],[13.9,-0.01],[13.95,0.0],[14.0,-0.02],[14.05,0.01],[14.1,-0.01],[14.15,0.02],[14.2,0.0],[14.25,-0.02],[14.3,0.01],[14.35,-0.01],[14.4,0.02],[14.45,0.0],[14.9,-0.03],[14.95,-0.05],[15.0,-0.06],[15.05,-0.055],[15.1,-0.065],[15.15,-0.07],[15.2,-0.06],[15.25,-0.05],[15.3,-0.04],[15.56,-0.17],[15.58,-0.2],[15.6,-0.207],[15.62,-0.18],[15.66,-0.16],[15.7,-0.175],[15.74,-0.14],[15.78,-0.12],[15.82,-0.11],[15.86,-0.1],[15.9,-0.08],[15.95,-0.07],[16.0,-0.06],[16.05,-0.07],[16.1,-0.08],[16.15,-0.065],[16.2,-0.075],[16.25,-0.06],[16.3,-0.05],[16.43,0.1],[16.6,0.02],[16.7,0.04],[16.8,0.03],[16.9,0.01],[17.6,0.02],[17.7,0.015],[17.8,0.025]];

        const bGreen = [[6.37,-0.137],[6.38,-0.12],[6.4,-0.02],[6.43,-0.03],[6.46,-0.01],[6.5,-0.04],[6.54,-0.02],[6.58,-0.035],[6.62,-0.025],[6.66,-0.04],[6.7,-0.03],[6.75,-0.02],[6.8,-0.035],[6.85,-0.01],[6.9,-0.02],[7.0,0.01],[7.1,-0.01],[7.2,0.015],[7.3,0.0],[7.4,-0.015],[7.5,0.01],[7.6,-0.02],[7.7,0.0],[7.8,-0.01],[7.9,0.02],[8.0,0.0],[8.1,-0.02],[8.2,-0.03],[8.3,-0.04],[8.42,-0.05],[8.45,-0.065],[8.48,-0.08],[8.51,-0.07],[8.6,-0.04],[8.7,-0.02],[8.8,0.0],[9.3,-0.01],[9.35,0.02],[9.4,0.06],[9.45,0.103],[9.48,0.09],[9.5,0.05],[9.55,0.04],[9.6,0.02],[9.65,0.0],[9.7,-0.02],[9.75,-0.03],[9.8,-0.02],[9.85,0.0],[9.9,-0.04],[9.95,-0.02],[10.0,0.01],[10.05,-0.01],[10.1,0.03],[10.15,0.05],[10.2,0.07],[10.25,0.093],[10.28,0.085],[10.32,0.06],[10.36,0.04],[10.4,0.02],[10.45,0.0],[10.5,-0.03],[10.55,-0.05],[10.58,-0.065],[10.62,-0.08],[10.66,-0.07],[11.09,-0.151],[11.3,0.04],[11.35,0.05],[11.4,0.045],[11.45,0.055],[11.5,0.04],[11.55,0.05],[11.6,0.035],[11.7,0.0],[11.8,-0.02],[11.9,-0.01],[12.0,-0.03],[12.1,-0.02],[12.2,-0.05],[12.25,-0.04],[12.32,-0.2],[12.6,-0.02],[12.65,0.03],[12.7,-0.05],[12.75,0.01],[12.8,-0.08],[12.85,0.02],[12.9,-0.04],[12.93,-0.155],[12.95,0.0],[13.0,-0.06],[13.05,0.02],[13.1,-0.03],[13.15,0.01],[13.2,-0.05],[13.25,0.0],[13.3,-0.02],[13.35,0.02],[13.4,-0.04],[13.45,0.01],[13.5,-0.02],[13.55,0.0],[14.0,-0.02],[14.05,-0.03],[14.1,-0.025],[14.15,-0.04],[14.2,-0.03],[14.25,-0.035],[14.3,-0.02],[14.32,-0.109],[14.4,-0.03],[14.45,-0.04],[14.6,-0.01],[14.7,0.0],[14.76,0.02],[14.82,0.04],[14.88,0.06],[14.94,0.07],[15.0,0.08],[15.05,0.09],[15.09,0.1],[15.15,0.06],[15.25,0.04],[15.35,0.02],[15.45,0.05],[15.6,0.08],[15.65,0.1],[15.7,0.105],[15.75,0.11],[15.8,0.1],[15.84,0.105],[15.9,0.07],[15.95,0.05],[16.0,-0.03],[16.1,-0.04],[16.2,-0.035],[16.3,-0.045],[16.5,-0.05],[16.55,-0.06],[16.6,-0.07],[16.65,-0.075],[16.7,-0.08],[16.73,-0.16],[16.8,-0.06]];

        const bCyan = [[6.37,-0.142],[6.38,-0.15],[6.4,0.0],[6.43,-0.01],[6.46,0.005],[6.49,0.07],[6.52,0.075],[6.56,0.07],[6.6,0.08],[6.63,0.075],[6.68,0.1],[6.72,0.11],[6.75,0.12],[6.78,0.13],[6.82,0.115],[6.86,0.105],[6.5,-0.01],[6.55,-0.02],[6.6,0.0],[6.65,-0.015],[6.7,-0.005],[6.8,-0.02],[6.9,-0.01],[6.95,0.0],[7.0,-0.015],[7.05,0.005],[7.1,-0.01],[7.15,-0.02],[7.2,0.0],[7.25,-0.01],[7.3,-0.025],[7.35,-0.005],[7.4,-0.015],[7.45,0.0],[7.5,-0.02],[7.6,-0.01],[7.7,-0.025],[7.8,-0.015],[7.9,-0.03],[8.0,-0.02],[8.1,-0.01],[8.2,0.01],[8.3,0.0],[8.4,-0.01],[8.5,-0.02],[8.6,-0.03],[8.7,-0.04],[8.8,-0.03],[9.5,-0.04],[9.55,-0.05],[9.6,-0.045],[9.65,-0.06],[9.7,-0.055],[9.75,-0.07],[9.8,-0.065],[9.9,-0.03],[10.0,-0.02],[10.05,-0.03],[10.1,-0.01],[10.15,-0.04],[10.2,0.0],[10.25,-0.02],[10.3,0.01],[10.35,-0.03],[10.4,-0.01],[10.45,-0.04],[10.5,-0.02],[10.55,-0.05],[10.6,-0.03],[10.65,-0.04],[10.7,-0.02],[10.75,-0.05],[10.8,-0.03],[12.8,-0.03],[12.9,-0.035],[13.0,-0.025],[13.1,-0.04],[13.2,-0.03],[13.3,-0.02],[13.8,-0.03],[13.85,-0.04],[13.9,-0.035],[13.95,-0.045],[14.0,-0.03],[14.1,-0.04],[14.2,-0.035],[14.3,-0.03],[16.2,-0.02],[16.25,-0.03],[16.3,-0.025],[16.35,-0.04],[16.4,-0.035],[16.45,-0.05],[16.5,-0.04],[16.7,-0.02],[16.8,0.0],[16.9,0.01],[17.0,0.02],[17.02,0.09],[17.06,0.1],[17.11,0.133],[17.16,0.095],[17.1,0.03],[17.2,0.02],[17.25,0.03],[17.3,0.015],[17.35,0.025],[17.4,0.04],[17.45,0.02],[17.5,0.03],[17.55,0.01],[17.6,0.025],[17.65,0.015],[17.7,0.03],[17.75,0.02],[17.8,0.01],[17.85,0.025],[17.9,0.015],[17.95,0.02],[18.0,0.01]];

        const bRed = [[6.37,0.13],[6.37,-0.169],[6.4,0.01],[6.42,0.0],[6.45,0.02],[6.48,-0.03],[6.5,0.01],[6.52,-0.045],[6.55,0.0],[6.58,0.015],[6.62,-0.01],[6.65,0.01],[6.7,0.0],[6.75,0.02],[6.8,0.005],[6.85,0.015],[6.9,0.0],[6.95,0.02],[7.0,0.01],[7.05,0.03],[7.1,0.015],[7.15,0.035],[7.2,0.02],[7.25,0.04],[7.3,0.025],[7.35,0.03],[7.4,0.01],[7.45,0.035],[7.5,0.02],[7.55,0.04],[7.6,0.025],[7.65,0.01],[7.7,0.03],[7.75,0.02],[7.8,0.0],[7.85,0.01],[7.9,-0.02],[7.95,-0.03],[8.02,-0.06],[8.06,-0.08],[8.1,-0.1],[8.14,-0.12],[8.18,-0.14],[8.2,-0.155],[8.23,-0.14],[8.26,-0.12],[8.3,-0.1],[8.34,-0.08],[8.38,-0.06],[8.1,0.05],[8.2,0.055],[8.3,0.06],[8.4,0.05],[8.45,0.04],[8.5,0.05],[8.55,0.035],[8.6,0.03],[8.7,0.02],[8.8,0.01],[8.9,0.0],[9.0,0.02],[9.1,0.01],[9.2,0.0],[9.6,0.04],[9.65,0.035],[9.7,0.03],[9.75,0.02],[9.8,0.015],[9.85,0.0],[9.9,-0.01],[13.8,0.02],[13.85,0.01],[13.9,0.0],[13.95,0.015],[14.0,0.005],[14.05,0.02],[14.1,0.01],[14.15,0.0],[14.2,0.015],[14.25,-0.005],[14.3,0.01],[14.35,0.0],[14.4,0.02],[14.45,0.01],[14.8,-0.04],[14.85,-0.05],[14.9,-0.055],[14.95,-0.06],[15.0,-0.05],[15.05,-0.065],[15.1,-0.06],[15.15,-0.07],[15.2,-0.055],[15.25,-0.06],[15.3,-0.05],[15.4,0.02],[15.45,0.03],[15.5,0.025],[15.55,0.04],[15.6,0.035],[15.65,0.045],[15.7,0.03],[15.75,0.04],[15.8,0.05],[15.85,0.035],[15.9,0.04],[15.95,0.02],[16.0,0.01],[16.05,0.0],[16.1,0.015],[16.15,0.01],[16.2,0.025],[16.25,0.02],[16.3,0.035],[16.35,0.03],[16.4,0.045],[16.45,0.04],[16.5,0.05],[16.55,0.055],[16.6,0.06],[16.65,0.065],[16.7,0.07],[16.73,0.089],[16.8,0.06],[17.34,0.1],[17.4,0.09],[17.45,0.11],[17.5,0.1],[17.55,0.115],[17.6,0.08],[17.65,0.09],[17.7,0.12],[17.75,0.152],[17.8,0.1],[17.85,0.07],[17.9,0.06],[17.95,0.09],[18.0,0.08]];

        const panelA = [aBlue, aOrange, aYellow, aPurple, aGreen, aCyan, aRed];
        const panelB = [bBlue, bOrange, bYellow, bPurple, bGreen, bCyan, bRed];

        const textColor = '#262626';
        const font = 'Liberation Sans, Arial, Helvetica, sans-serif';

        function yFmt(v) {
            if (Math.abs(v) < 1e-9) return '0';
            return v < 0 ? '\u2212' + (-v).toFixed(1) : v.toFixed(1);
        }

        function xAxes(grid, labelSize, nameSize, nameGap, labelMargin) {
            return [{
                gridIndex: grid, type: 'value', position: 'bottom',
                min: xRange[0], max: xRange[1], interval: 2,
                name: 'local time [h]', nameLocation: 'middle', nameGap: nameGap,
                nameTextStyle: {fontSize: nameSize, color: textColor, fontFamily: font},
                axisLine: {onZero: false, lineStyle: {color: '#333', width: 3}},
                axisTick: {inside: true, length: 12, lineStyle: {color: '#333', width: 2}},
                axisLabel: {fontSize: labelSize, color: textColor, fontFamily: font, margin: labelMargin},
                splitLine: {show: false}
            }, {
                gridIndex: grid, type: 'value', position: 'top',
                min: xRange[0], max: xRange[1], interval: 2,
                axisLine: {onZero: false, lineStyle: {color: '#aaa', width: 3}},
                axisTick: {inside: true, length: 12, lineStyle: {color: '#555', width: 2}},
                axisLabel: {show: false},
                splitLine: {show: false}
            }];
        }

        function yAxes(grid, labelSize, nameSize, nameGap, labelMargin) {
            return [{
                gridIndex: grid, type: 'value', position: 'left',
                min: yRange[0], max: yRange[1], interval: 0.1,
                name: 'error [m]', nameLocation: 'middle', nameGap: nameGap,
                nameTextStyle: {fontSize: nameSize, color: textColor, fontFamily: font},
                axisLine: {onZero: false, lineStyle: {color: '#888', width: 2}},
                axisTick: {inside: true, length: 12, lineStyle: {color: '#333', width: 2}},
                axisLabel: {fontSize: labelSize, color: textColor, fontFamily: font, margin: labelMargin, formatter: yFmt},
                splitLine: {show: true, lineStyle: {color: '#e4e4e4', width: 2}}
            }, {
                gridIndex: grid, type: 'value', position: 'right',
                min: yRange[0], max: yRange[1], interval: 0.1,
                axisLine: {onZero: false, lineStyle: {color: '#777', width: 2}},
                axisTick: {inside: true, length: 12, lineStyle: {color: '#333', width: 2}},
                axisLabel: {show: false},
                splitLine: {show: false}
            }];
        }

        const series = [];
        panelA.forEach(function (d, i) {
            series.push({type: 'scatter', xAxisIndex: 0, yAxisIndex: 0, data: d, symbol: 'rect', symbolSize: 6,
                itemStyle: {color: colors[i]}, silent: true});
        });
        panelB.forEach(function (d, i) {
            series.push({type: 'scatter', xAxisIndex: 2, yAxisIndex: 2, data: d, symbol: 'rect', symbolSize: 6,
                itemStyle: {color: colors[i]}, silent: true});
        });

        function panelLabel(letter, x, y) {
            return {
                type: 'text', x: x, y: y,
                style: {
                    text: '{p|(}{b|' + letter + '}{p|)}',
                    align: 'center', verticalAlign: 'middle',
                    rich: {
                        p: {fontSize: 78, fontFamily: 'Liberation Serif, Times New Roman, serif', fill: '#000'},
                        b: {fontSize: 78, fontWeight: 'bold', fontFamily: 'Liberation Serif, Times New Roman, serif', fill: '#000'}
                    }
                }
            };
        }

        var myChart = echarts.init(document.getElementById('main'));
        myChart.setOption({
            animation: false,
            backgroundColor: '#fff',
            grid: [
                {left: 303, top: 54, width: 1375, height: 854},
                {left: 266, top: 1340, width: 1458, height: 907}
            ],
            xAxis: xAxes(0, 57, 66, 107, 29).concat(xAxes(1, 62, 69, 119, 30)),
            yAxis: yAxes(0, 57, 66, 158, 23).concat(yAxes(1, 62, 69, 168, 22)),
            graphic: [panelLabel('a', 895, 1155), panelLabel('b', 898, 2508)],
            series: series
        });
    </script>
</body>
</html>
